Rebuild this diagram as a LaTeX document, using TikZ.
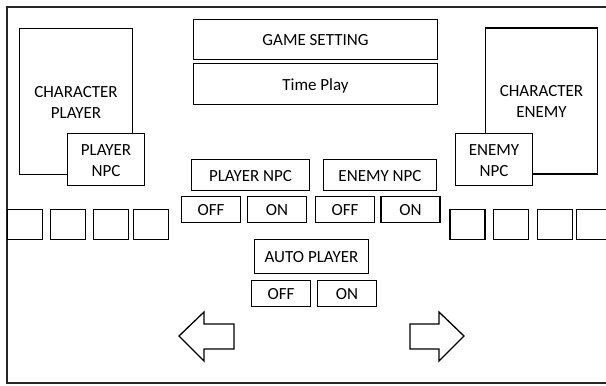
\documentclass[tikz,border=0pt]{standalone}
\usepackage{fontspec}
\setmainfont{Carlito}
\usepackage{tikz}
\usetikzlibrary{positioning}

\begin{document}
\begin{tikzpicture}[x=1pt, y=-1pt,
	panel/.style={font=\fontsize{17}{21}\selectfont, draw, line width=1.7, fill=white, inner sep=0, align=center},
	oneline/.style={text height=12.5, text depth=0},
	twoline/.style={text height=33.5, text depth=0},
	slot/.style={draw, line width=1.7, fill=white, minimum width=35, minimum height=30, inner sep=0},
	toggle/.style={panel, oneline, minimum width=59, minimum height=26}
]
\useasboundingbox (0,0) rectangle (606,386);
\clip (0,0) rectangle (606,386);

% screen frame
\draw[line width=1.8, black!85] (612,7) -- (7,7) -- (7,383) -- (612,383);

% characters
\node[panel, twoline, minimum width=113, minimum height=146] (charplayer) at (76,101.5) {CHARACTER\\PLAYER};
\node[panel, twoline, minimum width=77, minimum height=52] (playernpc) at (106,159.5) {PLAYER\\NPC};
\node[panel, twoline, minimum width=112, minimum height=146] (charenemy) at (541.5,101) {CHARACTER\\ENEMY};
\node[panel, twoline, minimum width=77, minimum height=52] (enemynpc) at (494,159.5) {ENEMY\\NPC};

% settings
\node[panel, oneline, minimum width=244, minimum height=40] (setting) at (315.5,39.5) {GAME SETTING};
\node[panel, oneline, minimum width=244, minimum height=41] (timeplay) at (315.5,84) {Time Play};

\node[panel, oneline, minimum width=118, minimum height=31] (plnpc) at (250.5,175) {PLAYER NPC};
\node[panel, oneline, minimum width=113, minimum height=31] (ennpc) at (380,175) {ENEMY NPC};
\node[toggle] (ploff) at (211,209.5) {OFF};
\node[toggle] (plon) at (277,209.5) {ON};
\node[toggle] (enoff) at (345,209.5) {OFF};
\node[toggle] (enon) at (410.5,209.5) {ON};

\node[panel, oneline, minimum width=114, minimum height=34] (auto) at (311.5,256.5) {AUTO PLAYER};
\node[toggle] (autooff) at (281,293.5) {OFF};
\node[toggle] (autoon) at (347,293.5) {ON};

% item slots
\foreach \x [count=\i] in {25,68,111,151}
	\node[slot] (lslot\i) at (\x,224.5) {};
\foreach \x [count=\i] in {467.5,511,555,594}
	\node[slot] (rslot\i) at (\x,224.5) {};

% move arrows
\draw[line width=1.3] (179,336) -- (204,312) -- (204,324) -- (234,324) -- (234,349) -- (204,349) -- (204,361) -- cycle;
\draw[line width=1.3] (464,336) -- (439,312) -- (439,324) -- (410,324) -- (410,349) -- (439,349) -- (439,361) -- cycle;
\end{tikzpicture}
\end{document}
